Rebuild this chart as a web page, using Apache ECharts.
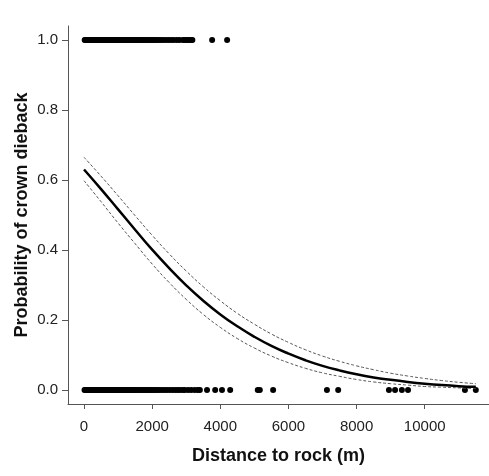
<!DOCTYPE html>
<html>
<head>
<meta charset="utf-8">
<script src="https://cdn.jsdelivr.net/npm/echarts@6/dist/echarts.min.js"></script>
<style>html,body{margin:0;padding:0;background:#fff;}#c{width:489px;height:476px;}</style>
</head>
<body>
<div id="c"></div>
<script>
// Observed distances (m) of trees with crown dieback (y = 1)
const diebackDist = [20, 45, 70, 95, 120, 150, 175, 200, 230, 260, 290, 320, 350, 380, 410, 445, 480, 510, 540, 575, 610, 640, 680, 710, 750, 790, 830, 860, 900, 940, 980, 1020, 1060, 1100, 1150, 1190, 1230, 1270, 1310, 1350, 1400, 1440, 1480, 1520, 1570, 1610, 1650, 1700, 1740, 1790, 1830, 1880, 1920, 1970, 2020, 2070, 2120, 2180, 2240, 2310, 2390, 2470, 2550, 2630, 2720, 2800, 2900, 2960, 3020, 3080, 3130, 3180, 3760, 4200];
// Observed distances (m) of trees without dieback (y = 0)
const healthyDist = [15, 40, 65, 90, 115, 140, 170, 200, 225, 255, 285, 315, 345, 375, 405, 440, 470, 500, 535, 565, 600, 630, 665, 700, 735, 770, 800, 840, 875, 910, 950, 985, 1020, 1060, 1100, 1140, 1180, 1220, 1260, 1300, 1340, 1380, 1420, 1460, 1500, 1540, 1590, 1630, 1670, 1720, 1760, 1810, 1850, 1900, 1950, 2000, 2050, 2100, 2160, 2220, 2290, 2370, 2440, 2520, 2600, 2680, 2750, 2820, 2900, 2960, 3060, 3150, 3250, 3340, 3400, 3610, 3850, 4050, 4290, 5100, 5160, 5550, 7130, 7460, 8950, 9130, 9330, 9510, 11180, 11500];
// Fitted curve and confidence band
const curveX = [0, 500, 1000, 1500, 2000, 2500, 3000, 3500, 4000, 4500, 5000, 5500, 6000, 6500, 7000, 7500, 8000, 8500, 9000, 9500, 10000, 10500, 11000, 11500];
const fitP   = [0.630, 0.574, 0.516, 0.458, 0.401, 0.348, 0.299, 0.255, 0.216, 0.182, 0.152, 0.126, 0.104, 0.085, 0.069, 0.056, 0.045, 0.036, 0.029, 0.023, 0.018, 0.014, 0.011, 0.009];
const upperP = [0.665, 0.611, 0.555, 0.498, 0.442, 0.389, 0.340, 0.295, 0.255, 0.219, 0.188, 0.160, 0.136, 0.115, 0.097, 0.082, 0.069, 0.058, 0.048, 0.040, 0.033, 0.027, 0.022, 0.018];
const lowerP = [0.598, 0.538, 0.477, 0.418, 0.360, 0.307, 0.259, 0.216, 0.179, 0.147, 0.120, 0.097, 0.078, 0.062, 0.049, 0.039, 0.030, 0.023, 0.018, 0.014, 0.010, 0.008, 0.006, 0.004];
const xTicks = [0, 2000, 4000, 6000, 8000, 10000];
const yTicks = [0, 0.2, 0.4, 0.6, 0.8, 1.0];

const pair = (xs, ys) => xs.map((x, i) => [x, ys[i]]);
const font = 'Liberation Sans, Arial, sans-serif';
const axisCol = '#555';

const chart = echarts.init(document.getElementById('c'), null, {renderer: 'canvas'});
chart.setOption({
  animation: false,
  backgroundColor: '#fff',
  grid: {left: 68, top: 26, right: 0, bottom: 72, containLabel: false},
  xAxis: {
    type: 'value', min: -470, max: 11887,
    name: 'Distance to rock (m)', nameLocation: 'middle', nameGap: 43, nameMoveOverlap: false,
    nameTextStyle: {fontFamily: font, fontWeight: 'bold', fontSize: 18, color: '#111'},
    axisLine: {show: true, onZero: false, lineStyle: {color: axisCol, width: 1}},
    axisTick: {show: true, length: 5, customValues: xTicks, lineStyle: {color: axisCol}},
    axisLabel: {customValues: xTicks, margin: 15, fontFamily: font, fontSize: 15, color: '#222',
      formatter: v => String(v)},
    splitLine: {show: false}
  },
  yAxis: {
    type: 'value', min: -0.04, max: 1.04,
    name: 'Probability of crown dieback', nameLocation: 'middle', nameGap: 37, nameMoveOverlap: false,
    nameTextStyle: {fontFamily: font, fontWeight: 'bold', fontSize: 18, color: '#111'},
    axisLine: {show: true, onZero: false, lineStyle: {color: axisCol, width: 1}},
    axisTick: {show: true, length: 6, customValues: yTicks, lineStyle: {color: axisCol}},
    axisLabel: {customValues: yTicks, margin: 10, fontFamily: font, fontSize: 15, color: '#222',
      formatter: v => v.toFixed(1)},
    splitLine: {show: false}
  },
  series: [
    {type: 'scatter', data: diebackDist.map(d => [d, 1]), symbol: 'circle', symbolSize: 6,
     itemStyle: {color: '#000', opacity: 1}},
    {type: 'scatter', data: healthyDist.map(d => [d, 0]), symbol: 'circle', symbolSize: 6,
     itemStyle: {color: '#000', opacity: 1}},
    {type: 'line', data: pair(curveX, upperP), smooth: 0.5, showSymbol: false,
     lineStyle: {color: '#555', width: 1, type: [3, 2]}},
    {type: 'line', data: pair(curveX, lowerP), smooth: 0.5, showSymbol: false,
     lineStyle: {color: '#555', width: 1, type: [3, 2]}},
    {type: 'line', data: pair(curveX, fitP), smooth: 0.5, showSymbol: false,
     lineStyle: {color: '#000', width: 2.5}}
  ]
});
</script>
</body>
</html>
